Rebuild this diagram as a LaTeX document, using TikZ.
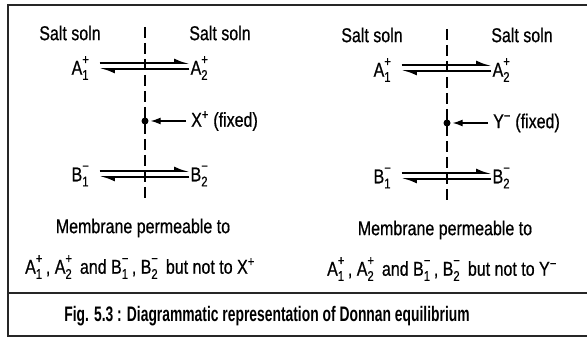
\documentclass[tikz,border=0pt]{standalone}
\usepackage{fontspec}
\setmainfont[FakeStretch=0.8,FakeBold=0.6]{Liberation Sans}
\newfontfamily\capfont[FakeStretch=0.66]{Liberation Sans}
\usetikzlibrary{arrows.meta}
% ion with charge above and index below
\newcommand\chg[3]{#1\rlap{\raisebox{3pt}{\textsuperscript{#2}}}\raisebox{-2pt}{\textsubscript{#3}}\,}

\begin{document}
\begin{tikzpicture}[x=1pt,y=-1pt,
  every node/.style={font=\fontsize{20}{23}\selectfont,inner sep=1pt},
  frame/.style={line width=1.5pt,black!85},
  membrane/.style={line width=1.2pt,dash pattern=on 11pt off 5pt},
  fwd/.style={line width=1.6pt,-{Latex[left,length=12pt,width=9pt]}},
  fixdot/.style={circle,fill,minimum size=7pt,inner sep=0pt},
  fixarrow/.style={line width=1.2pt,-{Latex[length=10pt,width=7pt]}}]
\useasboundingbox (0,0) rectangle (587,344);
% frame
\draw[frame] (587,5) -- (8,5) -- (8,336) -- (587,336);
\draw[frame] (8,293) -- (587,293);
% the two membranes
\foreach \dx/\dy/\fix in {0/0/X\textsuperscript{+},302/2/Y\textsuperscript{−}} {
  \node (saltl\dx) at (70+\dx,33+\dy) {Salt soln};
  \node (saltr\dx) at (220+\dx,33+\dy) {Salt soln};
  \node (aone\dx) at (82+\dx,68+\dy) {\chg{A}{+}{1}};
  \node (atwo\dx) at (201+\dx,68+\dy) {\chg{A}{+}{2}};
  \node (bone\dx) at (82+\dx,176+\dy) {\chg{B}{−}{1}};
  \node (btwo\dx) at (201+\dx,176+\dy) {\chg{B}{−}{2}};
  \coordinate (mtop\dx) at (145+\dx,27+\dy);
  \coordinate (mbot\dx) at (145+\dx,203+\dy);
  \draw[membrane] (mtop\dx) -- (mbot\dx);
  \node[fixdot] (dot\dx) at (145+\dx,121+\dy) {};
  \node[anchor=west] (fix\dx) at (190+\dx,121+\dy) {\fix{} (fixed)};
  \draw[fixarrow,shorten <=4pt,shorten >=2pt] (fix\dx.west) -- (dot\dx);
  \draw[fwd,shorten <=6pt] ([yshift=5pt]aone\dx.east) -- ([yshift=5pt]atwo\dx.west);
  \draw[fwd,shorten >=6pt] ([yshift=-1pt]atwo\dx.west) -- ([yshift=-1pt]aone\dx.east);
  \draw[fwd,shorten <=6pt] ([yshift=5pt]bone\dx.east) -- ([yshift=5pt]btwo\dx.west);
  \draw[fwd,shorten >=6pt] ([yshift=-1pt]btwo\dx.west) -- ([yshift=-1pt]bone\dx.east);
  \node (perm\dx) at (143+\dx,228+\dy) {Membrane permeable to};
  \node (ions\dx) at (140+\dx,267+\dy)
    {\chg{A}{+}{1}, \chg{A}{+}{2} and \chg{B}{−}{1}, \chg{B}{−}{2} but not to \fix};
}
\node[font=\capfont\bfseries\fontsize{21}{24}\selectfont] (caption) at (267,316)
  {Fig. 5.3 : Diagrammatic representation of Donnan equilibrium};
\end{tikzpicture}
\end{document}
